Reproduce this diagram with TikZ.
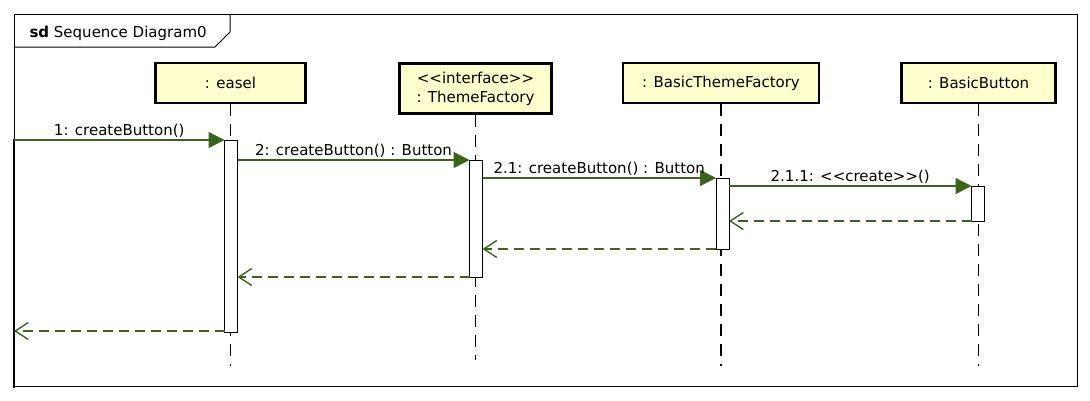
\documentclass[tikz,border=0pt]{standalone}
\usepackage{fontspec}
\setmainfont{DejaVu Sans}
\definecolor{msggreen}{RGB}{58,99,29}
\definecolor{headyellow}{RGB}{255,255,206}
\usetikzlibrary{arrows.meta,positioning}

\begin{document}
\begin{tikzpicture}[x=1pt, y=-1pt,
    every node/.style={font=\fontsize{15}{19}\selectfont},
    head/.style={draw, line width=2.8pt, fill=headyellow, minimum height=40pt, inner sep=0pt, align=center},
    activation/.style={draw, fill=white, line width=1pt, minimum width=13pt, inner sep=0pt, outer sep=0pt},
    lifeline/.style={line width=1.2pt, dash pattern=on 12pt off 8pt},
    msg/.style={color=msggreen, line width=1.4pt, -{Triangle[length=16pt,width=16pt]}},
    reply/.style={color=msggreen, line width=1.4pt, dash pattern=on 10pt off 6pt, -{Straight Barb[length=13pt,width=17pt]}},
    msglabel/.style={above, inner sep=2pt, text=black}]
    \useasboundingbox (0,0) rectangle (1090,400);

    % Frame
    \draw[line width=1pt] (14,14) rectangle (1077,386);
    \draw[line width=2.6pt] (14,139) -- (14,388);
    \draw[line width=1pt] (14,47) -- (215,47) -- (230,32) -- (230,14);
    \node[anchor=base west] (title) at (26,37) {\textbf{sd} Sequence Diagram0};

    % Lifeline heads
    \node[head, minimum width=150pt] (easel) at (230.5,83) {: easel};
    \node[head, minimum width=152pt, minimum height=50pt] (themefactory) at (475.5,88.5) {<{}<interface>{}>\\: ThemeFactory};
    \node[head, minimum width=196pt] (basicthemefactory) at (721,83) {: BasicThemeFactory};
    \node[head, minimum width=154pt] (basicbutton) at (978.5,83) {: BasicButton};

    % Lifelines
    \draw[lifeline] (easel.south) -- ++(0,262);
    \draw[lifeline] (themefactory.south) -- ++(0,245);
    \draw[lifeline] (basicthemefactory.south) -- ++(0,262);
    \draw[lifeline] (basicbutton.south) -- ++(0,262);

    % Activations
    \node[activation, minimum height=192pt] (actE) at (231,236) {};
    \node[activation, minimum height=117pt] (actT) at (476,218.5) {};
    \node[activation, minimum height=71pt] (actB) at (722.5,213.5) {};
    \node[activation, minimum height=35pt] (actBB) at (978,203.5) {};

    % Gates on the frame
    \coordinate (gateIn) at (14,140);
    \coordinate (gateOut) at (14,331);

    % Calls
    \draw[msg] (gateIn) -- (gateIn -| actE.west) node[msglabel, midway] {1: createButton()};
    \draw[msg] (actE.east |- actT.north) -- (actT.north west) node[msglabel, midway] {2: createButton() : Button};
    \draw[msg] (actT.east |- actB.north) -- (actB.north west) node[msglabel, midway] {2.1: createButton() : Button};
    \draw[msg] (actB.east |- actBB.north) -- (actBB.north west) node[msglabel, midway] {2.1.1: <{}<create>{}>()};

    % Replies
    \draw[reply] (actBB.south west) -- (actB.east |- actBB.south);
    \draw[reply] (actB.south west) -- (actT.east |- actB.south);
    \draw[reply] (actT.south west) -- (actE.east |- actT.south);
    \draw[reply] (actE.south west |- gateOut) -- (gateOut);
\end{tikzpicture}
\end{document}
